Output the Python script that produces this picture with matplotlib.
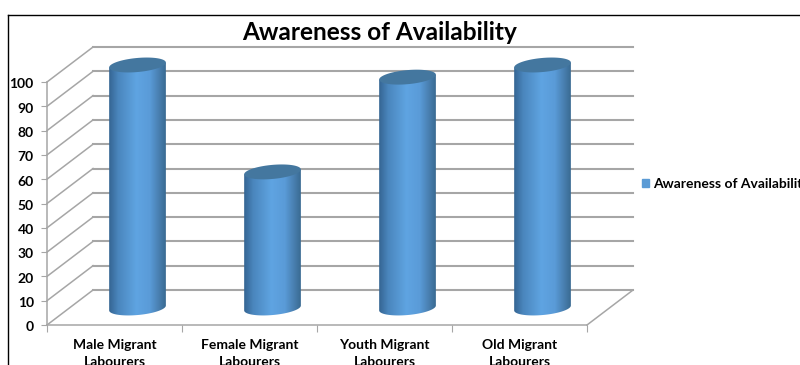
import numpy as np
import matplotlib
matplotlib.use("Agg")
import matplotlib.pyplot as plt
from matplotlib.colors import LinearSegmentedColormap
from matplotlib.lines import Line2D
from matplotlib.patches import Patch, Polygon
from matplotlib.transforms import ScaledTranslation

# === Data ===
categories = ["Male Migrant\nLabourers", "Female Migrant\nLabourers",
              "Youth Migrant\nLabourers", "Old Migrant\nLabourers"]
awareness = [100, 56, 95, 100]
y_ticks = list(range(0, 101, 10))
series_name = "Awareness of Availability"
chart_title = "Awareness of Availability"

plt.rcParams["font.family"] = ["Lato", "DejaVu Sans"]

GRID = "#a6a6a6"
DEPTH_X = 0.341   # oblique depth of the box, in category units
DEPTH_Y = 14.4    # same, in value units
BAR_A = 0.21      # cylinder half width
BAR_B = 2.9       # ellipse half height
BAR_TILT = 1.0    # ellipse rises to the right

fig = plt.figure(figsize=(8, 3.65), dpi=100)
ax = fig.add_axes([47 / 800, 40 / 365, 540 / 800, 243 / 365])
ax.set_facecolor("none")

# --- 3D box: walls, floor, gridlines ---
for v in y_ticks:
    ax.plot([0, DEPTH_X], [v, v + DEPTH_Y], color=GRID, lw=1.1, clip_on=False, zorder=1)
    ax.plot([DEPTH_X, 4 + DEPTH_X], [v + DEPTH_Y, v + DEPTH_Y], color=GRID, lw=1.5,
            clip_on=False, zorder=1)
ax.plot([4, 4 + DEPTH_X], [0, DEPTH_Y], color=GRID, lw=1.1, clip_on=False, zorder=1)

# --- Cylinders, gradient clipped to the outline ---
cmap = LinearSegmentedColormap.from_list(
    "cyl", [(0, "#356593"), (0.16, "#4a86bd"), (0.48, "#5fa4e2"),
            (0.72, "#5a9bd8"), (0.9, "#467cab"), (1, "#3a6a92")])
shade = np.linspace(0, 1, 128).reshape(1, -1)
t = np.linspace(0, 2 * np.pi, 120)

for i, val in enumerate(awareness):
    cx = i + 0.5 + DEPTH_X / 2
    base = DEPTH_Y / 2 - 0.2
    top = base + val

    ex = BAR_A * np.cos(t)
    ey = BAR_B * np.sin(t) + BAR_TILT * np.cos(t)
    # left to right along the lower half of the ellipse, at base level
    front = np.sin(t) < 0
    order = np.argsort(ex[front])
    low_x = cx + ex[front][order]
    low_y = base + ey[front][order]
    outline = np.column_stack([
        np.r_[cx - BAR_A, low_x, cx + BAR_A, cx + BAR_A, cx - BAR_A],
        np.r_[base - BAR_TILT, low_y, base + BAR_TILT, top + BAR_TILT, top - BAR_TILT],
    ])
    body = Polygon(outline, closed=True, transform=ax.transData, fc="none", ec="none")
    ax.add_patch(body)
    body.set_clip_on(False)

    im = ax.imshow(shade, cmap=cmap, aspect="auto", interpolation="bilinear", zorder=3,
                   extent=[cx - BAR_A, cx + BAR_A, base - BAR_B - BAR_TILT, top + BAR_TILT])
    im.set_clip_path(body)
    im.set_clip_box(fig.bbox)

    cap = Polygon(np.column_stack([cx + ex, top + ey]), closed=True, fc="#44779f", ec="none",
                  zorder=4, clip_on=False)
    ax.add_patch(cap)

ax.set_xlim(0, 4)
ax.set_ylim(0, 100)

# --- Axes ---
for side in ["top", "right"]:
    ax.spines[side].set_visible(False)
for side in ["left", "bottom"]:
    ax.spines[side].set_color(GRID)
    ax.spines[side].set_linewidth(1.1)
ax.set_yticks(y_ticks)
ax.set_yticklabels([str(v) for v in y_ticks], fontsize=10, fontweight="bold", color="black")
ax.tick_params(axis="y", length=4, color=GRID, pad=5.5)
nudge = ScaledTranslation(0, -1 / 72, fig.dpi_scale_trans)
for lab in ax.get_yticklabels():
    lab.set_transform(lab.get_transform() + nudge)
ax.set_xticks(range(5))
ax.set_xticklabels([])
ax.tick_params(axis="x", which="major", length=5, color=GRID)
ax.set_xticks(np.arange(4) + 0.5, minor=True)
ax.set_xticklabels(categories, minor=True, fontsize=10, fontweight="bold", color="black",
                   linespacing=1.55)
ax.tick_params(axis="x", which="minor", length=0, pad=10)

# --- Title, legend, outer frame ---
fig.text(380 / 800, 1 - 32.5 / 365, chart_title, ha="center", va="center", fontsize=17.6,
         fontweight="bold", color="black")
fig.legend(handles=[Patch(color="#5b9bd5", label=series_name)],
           loc="center left", bbox_to_anchor=(638 / 800, 1 - 184 / 365), frameon=False,
           prop={"size": 10, "weight": "bold"}, handlelength=0.5, handleheight=0.55,
           handletextpad=0.3, borderpad=0.1, borderaxespad=0.2)
fig.add_artist(Line2D([8 / 800, 8 / 800], [0, 1 - 14.5 / 365], color="black", lw=1.0))
fig.add_artist(Line2D([8 / 800, 1], [1 - 14.5 / 365, 1 - 14.5 / 365], color="black", lw=1.0))

fig.savefig("out.png", dpi=100)
plt.close(fig)
